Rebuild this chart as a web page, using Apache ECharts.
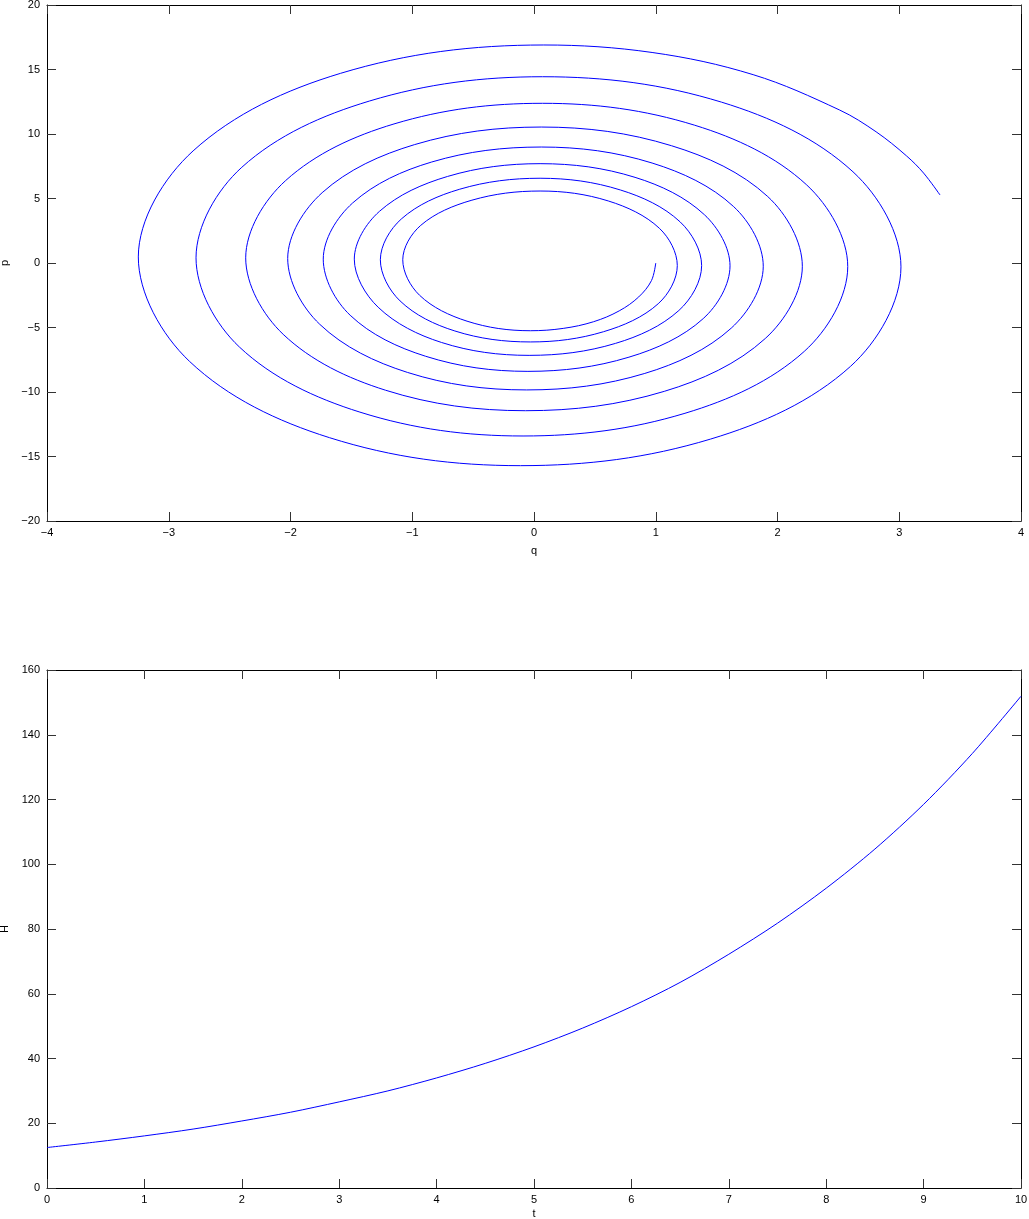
<!DOCTYPE html>
<html>
<head>
<meta charset="utf-8">
<script src="https://cdn.jsdelivr.net/npm/echarts@6/dist/echarts.min.js"></script>
<style>
  html, body { margin: 0; padding: 0; background: #fff; }
  #main { width: 1029px; height: 1219px; }
</style>
</head>
<body>
<div id="main"></div>
<script>
// phase portrait q-p, clockwise from q=1, p=0
// (12 points a turn, denser in the first and last quarter)
const qValues = [
  1.0, 0.965, 0.86, 0.70, 0.49, 0.24, -0.03, -0.55, -0.94, -1.078, -0.93, -0.51, 0.05, 0.61, 1.03,
  1.177, 1.02, 0.57, -0.03, -0.65, -1.10, -1.262, -1.09, -0.61, 0.05, 0.71, 1.20,
  1.377, 1.19, 0.67, -0.04, -0.76, -1.28, -1.476, -1.27, -0.71, 0.05, 0.83, 1.40,
  1.61, 1.39, 0.78, -0.05, -0.89, -1.51, -1.731, -1.49, -0.84, 0.06, 0.97, 1.64,
  1.883, 1.62, 0.91, -0.06, -1.04, -1.76, -2.023, -1.74, -0.98, 0.06, 1.13, 1.92,
  2.204, 1.90, 1.07, -0.07, -1.22, -2.06, -2.368, -2.04, -1.15, 0.07, 1.32, 2.24,
  2.577, 2.22, 1.24, -0.09, -1.43, -2.42, -2.776, -2.40, -1.35, 0.07, 1.54, 2.62,
  3.014, 2.60, 1.45, -0.11, -1.68, -2.83, -3.25, -2.80, -1.59, 0.08, 0.97, 1.80, 2.51, 2.81, 3.06, 3.20,
  3.335
]
const pValues = [
  0, -1.36, -2.63, -3.71, -4.55, -5.07, -5.25, -4.51, -2.50, 0.25, 2.92, 4.87, 5.58, 4.81, 2.69,
  -0.2, -3.16, -5.33, -6.12, -5.27, -2.94, 0.25, 3.41, 5.72, 6.57, 5.66, 3.19,
  -0.2, -3.68, -6.23, -7.16, -6.16, -3.43, 0.3, 4.00, 6.71, 7.70, 6.64, 3.74,
  -0.22, -4.31, -7.30, -8.40, -7.23, -4.05, 0.3, 4.65, 7.83, 8.99, 7.75, 4.37,
  -0.25, -5.05, -8.56, -9.84, -8.48, -4.75, 0.35, 5.45, 9.18, 10.54, 9.09, 5.15,
  -0.25, -5.85, -9.95, -11.45, -9.86, -5.53, 0.4, 6.39, 10.78, 12.38, 10.68, 6.05,
  -0.28, -6.85, -11.65, -13.41, -11.56, -6.51, 0.4, 7.42, 12.56, 14.44, 12.47, 7.07,
  -0.3, -8.01, -13.65, -15.71, -13.54, -7.62, 0.47, 8.69, 14.70, 16.9, 16.32, 14.60, 11.86, 10.17, 8.30, 6.97,
  5.27
]

// energy H over time t
const tValues = [0, 0.5, 1, 1.5, 2, 2.5, 3, 3.5, 4, 4.5, 5, 5.5, 6, 6.5, 7, 7.5, 8, 8.5, 9, 9.5, 10]
const hValues = [12.5, 14.2, 16.1, 18.2, 20.7, 23.4, 26.6, 30.0, 34.0, 38.5, 43.6, 49.4, 56.0, 63.5, 72.2, 81.8, 92.6, 104.7, 118.5, 134.2, 151.9]

// axis ranges [min, max, step]
const qRange = [-4, 4, 1]
const pRange = [-20, 20, 5]
const tRange = [0, 10, 1]
const hRange = [0, 160, 20]

const font = 'Liberation Sans, Arial, Helvetica, sans-serif'
const minus = v => String(v).replace('-', '\u2212')

function axis (dim, gridIndex, range, pos, label, name, nameGap) {
  return {
    type: 'value',
    gridIndex,
    position: pos,
    min: range[0],
    max: range[1],
    interval: range[2],
    name: label ? name : '',
    nameLocation: 'middle',
    nameGap,
    nameTextStyle: { color: '#000', fontSize: 11, fontFamily: font },
    axisLine: { show: true, onZero: false, lineStyle: { color: '#000', width: 1 } },
    axisTick: { show: true, inside: true, length: 9, lineStyle: { color: '#333', width: 1 } },
    axisLabel: {
      show: label,
      color: '#000',
      fontSize: 11,
      fontFamily: font,
      margin: dim === 'x' ? 6 : 7,
      showMinLabel: true,
      showMaxLabel: true,
      formatter: minus
    },
    splitLine: { show: false }
  }
}

const option = {
  animation: false,
  backgroundColor: '#fff',
  grid: [
    { left: 47, top: 5, width: 974, height: 516, outerBoundsMode: 'none' },
    { left: 47, top: 670, width: 974, height: 518, outerBoundsMode: 'none' }
  ],
  xAxis: [
    axis('x', 0, qRange, 'bottom', true, 'q', 24),
    axis('x', 0, qRange, 'top', false),
    axis('x', 1, tRange, 'bottom', true, 't', 20),
    axis('x', 1, tRange, 'top', false)
  ],
  yAxis: [
    axis('y', 0, pRange, 'left', true, 'p', 29),
    axis('y', 0, pRange, 'right', false),
    axis('y', 1, hRange, 'left', true, 'H', 29),
    axis('y', 1, hRange, 'right', false)
  ],
  series: [
    {
      type: 'line',
      xAxisIndex: 0,
      yAxisIndex: 0,
      data: qValues.map((q, i) => [q, pValues[i]]),
      smooth: 0.35,
      showSymbol: false,
      lineStyle: { color: '#0000ff', width: 1 }
    },
    {
      type: 'line',
      xAxisIndex: 2,
      yAxisIndex: 2,
      data: tValues.map((t, i) => [t, hValues[i]]),
      smooth: 0.3,
      showSymbol: false,
      lineStyle: { color: '#0000ff', width: 1 }
    }
  ]
}

echarts.init(document.getElementById('main')).setOption(option)
</script>
</body>
</html>
